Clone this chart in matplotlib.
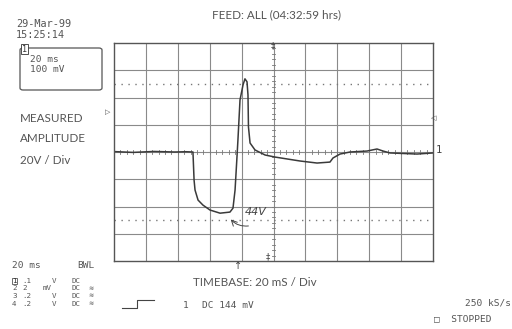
import numpy as np
import matplotlib.pyplot as plt
from matplotlib.patches import FancyBboxPatch

# trace: time in ms, level in V
time_ms = [-100, -88, -75, -62, -55, -50.5, -49.8, -49.2, -47.3, -44.2, -39.8, -33.5,
           -27.3, -25.4, -24.1, -22.9, -22.3, -21.0, -19.1, -17.9, -16.6, -16.0,
           -15.7, -14.7, -11.6, -5.3, 0.9, 16.6, 27.3, 35.4, 37.3, 41.7, 48.0,
           58.6, 64.9, 68.7, 73.0, 90.0, 100]
volts = [0.3, -0.3, 0.4, 0.0, 0.2, 0.0, -20.6, -27.9, -35.3, -39.0, -42.6, -44.9,
         -44.1, -41.2, -27.9, -3.7, 8.8, 38.2, 49.3, 53.7, 51.5, 41.9,
         18.4, 6.6, 1.5, -2.2, -3.7, -6.6, -8.1, -7.4, -4.4, -1.5, 0.0,
         0.7, 2.2, 0.7, -0.7, -1.5, -0.7]

channels = ['1', '2', '3', '4']
ch_scale = ['.1', '2', '.2', '.2']
ch_unit = ['V', 'mV', 'V', 'V']

W, H = 512, 329
fig = plt.figure(figsize=(W / 100, H / 100), dpi=100)
fig.patch.set_facecolor('white')

ax = fig.add_axes([114 / W, 1 - 261 / H, 319 / W, 218 / H])
ax.set_xlim(-100, 100)
ax.set_ylim(-80, 80)
ax.set_xticks([])
ax.set_yticks([])
for s in ax.spines.values():
    s.set_color('#555555')
    s.set_linewidth(1.0)

grid_c = '#8a8a8a'
for gx in np.arange(-80, 100, 20):
    ax.axvline(gx, color=grid_c, lw=0.8)
for gy in np.arange(-60, 80, 20):
    ax.axhline(gy, color=grid_c, lw=0.8)
ax.axhline(50, color='#777777', lw=1.0, ls=(0, (1, 4)))
ax.axhline(-50, color='#777777', lw=1.0, ls=(0, (1, 4)))

# minor ticks on the centre cross
for tx in np.arange(-96, 100, 4):
    ax.plot([tx, tx], [-1.5, 1.5], color='#777777', lw=0.6)
for ty in np.arange(-76, 80, 4):
    ax.plot([-1.2, 1.2], [ty, ty], color='#777777', lw=0.6)

ax.plot(time_ms, volts, color='#3a3a3a', lw=1.1)

# hand-written mark
ax.text(-11, -44, '44V', fontsize=8, color='#444444', style='italic',
        family='DejaVu Sans', va='center', ha='center')
ax.annotate('', xy=(-28, -48), xytext=(-14, -54),
            arrowprops=dict(arrowstyle='->', color='#444444', lw=0.7,
                            connectionstyle='arc3,rad=-0.3'))

def ftxt(x, y, s, **kw):
    kw.setdefault('color', '#555555')
    fig.text(x / W, 1 - y / H, s, va='center', **kw)

mono = dict(family='DejaVu Sans Mono', fontsize=6.8)
small = dict(family='DejaVu Sans Mono', fontsize=5.4)
sans = dict(family='Lato', fontsize=8.4)

ftxt(16, 24, '29-Mar-99', family='DejaVu Sans Mono', fontsize=7.4)
ftxt(16, 35, '15:25:14', family='DejaVu Sans Mono', fontsize=7.4)
box = FancyBboxPatch((20 / W, 1 - 90 / H), 82 / W, 42 / H,
                     boxstyle='round,pad=0,rounding_size=0.006',
                     transform=fig.transFigure, fill=False,
                     edgecolor='#555555', lw=0.9)
fig.add_artist(box)
ftxt(22, 49, '1', fontsize=6, family='DejaVu Sans Mono', color='#333333',
     bbox=dict(boxstyle='square,pad=0.1', fc='white', ec='#333333', lw=0.6))
ftxt(30, 60, '20 ms', **mono)
ftxt(30, 70, '100 mV', **mono)

ftxt(277, 15, 'FEED: ALL (04:32:59 hrs)', ha='center', **sans)
ftxt(20, 118, 'MEASURED', **sans)
ftxt(20, 139, 'AMPLITUDE', **sans)
ftxt(20, 160, '20V / Div', **sans)
ftxt(193, 283, 'TIMEBASE: 20 mS / Div', **sans)

ftxt(12, 266, '20 ms', **mono)
ftxt(77, 266, 'BWL', **mono)
for i, ch in enumerate(channels):
    yy = 281 + i * 7.5
    if i == 0:
        ftxt(12, yy, ch, color='#333333',
             bbox=dict(boxstyle='square,pad=0.02', fc='white', ec='#333333', lw=0.5),
             **small)
    else:
        ftxt(12, yy, ch, **small)
    ftxt(22, yy, ch_scale[i], **small)
    ftxt(43 if ch_unit[i] == 'mV' else 52, yy, ch_unit[i], **small)
    ftxt(72, yy, 'DC', **small)
    if i > 0:
        ftxt(88, yy, '≋', family='DejaVu Sans', fontsize=4.5)

fig.add_artist(plt.Line2D(np.array([122, 137, 137, 154]) / W,
                          1 - np.array([308, 308, 300, 300]) / H,
                          color='#444444', lw=0.8))
ftxt(183, 305, '1', **mono)
ftxt(202, 305, 'DC 144 mV', **mono)
ftxt(511, 303, '250 kS/s', ha='right', **mono)
ftxt(434, 319, '□  STOPPED', **mono)

# markers around the graticule
ftxt(436, 150, '1', family='DejaVu Sans Mono', fontsize=7.5, color='#444444')
ftxt(105, 112, '▷', family='DejaVu Sans', fontsize=5, color='#444444')
ftxt(431, 118, '◁', family='DejaVu Sans', fontsize=5, color='#444444')
ftxt(238, 266, '↑', family='DejaVu Sans', fontsize=7, ha='center', color='#444444')
ftxt(273, 46, '‡', family='DejaVu Sans', fontsize=6, ha='center', color='#444444')
ftxt(268, 257, '‡', family='DejaVu Sans', fontsize=6, ha='center', color='#444444')

fig.savefig('out.png', dpi=100)
